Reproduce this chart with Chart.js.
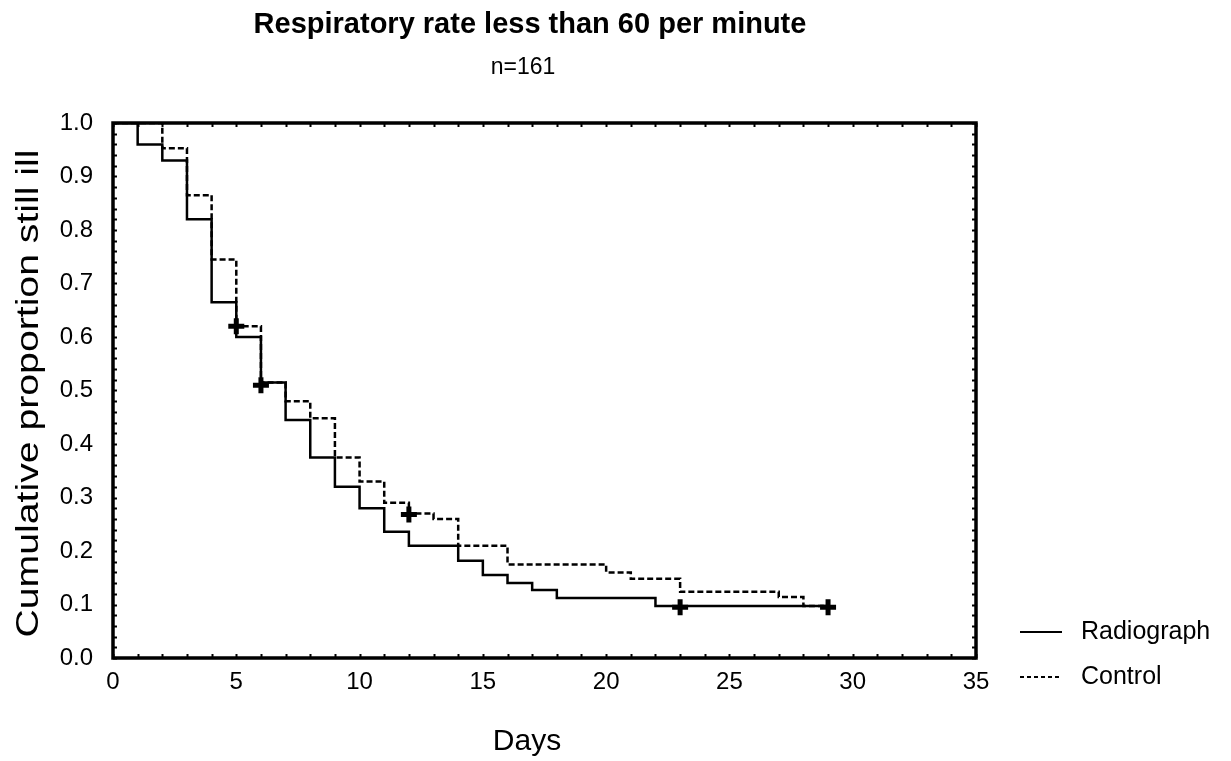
<!DOCTYPE html>
<html>
<head>
<meta charset="utf-8">
<script src="https://cdn.jsdelivr.net/npm/chart.js@4.4.1/dist/chart.umd.min.js"></script>
<style>
  html, body { margin: 0; padding: 0; background: #ffffff; }
  #wrap { width: 1231px; height: 761px; position: relative; }
</style>
</head>
<body>
<div id="wrap"><canvas id="km"></canvas></div>
<script>
// Kaplan-Meier estimates: day of each step and proportion still ill from that day on
const radiographDays = [0, 1, 2, 3, 4, 5, 6, 7, 8, 9, 10, 11, 12, 14, 15, 16, 17, 18, 22, 29];
const radiographProp = [1.0, 0.96, 0.93, 0.82, 0.665, 0.60, 0.515, 0.445, 0.375, 0.32, 0.28, 0.236, 0.21, 0.182, 0.155, 0.14, 0.127, 0.112, 0.097, 0.097];

const controlDays = [0, 2, 3, 4, 5, 6, 7, 8, 9, 10, 11, 12, 13, 14, 16, 20, 21, 23, 27, 28, 29];
const controlProp = [1.0, 0.953, 0.865, 0.745, 0.62, 0.515, 0.48, 0.448, 0.375, 0.33, 0.29, 0.27, 0.26, 0.21, 0.175, 0.16, 0.148, 0.124, 0.114, 0.097, 0.097];

// Censored observations (+ marks)
const censorDays = [5, 6, 12, 23, 29];
const censorProp = [0.62, 0.51, 0.268, 0.095, 0.095];

// Axis ticks
const xTicks = [0, 5, 10, 15, 20, 25, 30, 35];
const yTicks = [0.0, 0.1, 0.2, 0.3, 0.4, 0.5, 0.6, 0.7, 0.8, 0.9, 1.0];
const xMinorStep = 1;
const yMinorStep = 0.02;

const seriesNames = ['Radiograph', 'Control'];
const titleText = 'Respiratory rate less than 60 per minute';
const subtitleText = 'n=161';
const xTitle = 'Days';
const yTitle = 'Cumulative proportion still ill';

const FONT = "'Liberation Sans', Arial, sans-serif";

const toPoints = (xs, ys) => xs.map((x, i) => ({ x: x, y: ys[i] }));

// Frame, inward minor ticks, headings, axis titles and legend
const decorations = {
  id: 'decorations',
  afterDatasetsDraw(chart) {
    const { ctx, chartArea: a, scales } = chart;
    const xs = scales.x, ys = scales.y;
    ctx.save();
    ctx.strokeStyle = '#000';
    ctx.lineWidth = 2;
    const tl = 4;
    for (let v = xs.min; v <= xs.max + 1e-9; v += xMinorStep) {
      const px = Math.round(xs.getPixelForValue(v)) + 0.5;
      ctx.beginPath();
      ctx.moveTo(px, a.bottom); ctx.lineTo(px, a.bottom - tl);
      ctx.moveTo(px, a.top); ctx.lineTo(px, a.top + tl);
      ctx.stroke();
    }
    for (let v = ys.min; v <= ys.max + 1e-9; v += yMinorStep) {
      const py = Math.round(ys.getPixelForValue(v)) + 0.5;
      ctx.beginPath();
      ctx.moveTo(a.left, py); ctx.lineTo(a.left + tl, py);
      ctx.moveTo(a.right, py); ctx.lineTo(a.right - tl, py);
      ctx.stroke();
    }
    ctx.lineWidth = 3.5;
    ctx.strokeRect(a.left, a.top, a.right - a.left, a.bottom - a.top);
    ctx.restore();
  },
  afterDraw(chart) {
    const { ctx, chartArea: a } = chart;
    ctx.save();
    ctx.fillStyle = '#000';
    ctx.textAlign = 'center';
    ctx.textBaseline = 'middle';

    // headings
    ctx.font = 'bold 29px ' + FONT;
    ctx.fillText(titleText, 530, 25);
    ctx.font = '23px ' + FONT;
    ctx.fillText(subtitleText, 523, 67.5);

    // x axis title
    ctx.font = '30px ' + FONT;
    ctx.fillText(xTitle, 527, 742);

    // y axis title, set a little wide along its length
    ctx.font = '31px ' + FONT;
    const w = ctx.measureText(yTitle).width;
    const stretch = 488 / w;
    ctx.translate(29, (a.top + a.bottom) / 2 + 3);
    ctx.rotate(-Math.PI / 2);
    ctx.scale(stretch, 1);
    ctx.fillText(yTitle, 0, 0);
    ctx.restore();

    // legend
    ctx.save();
    ctx.strokeStyle = '#000';
    ctx.fillStyle = '#000';
    ctx.lineWidth = 2;
    ctx.font = '25px ' + FONT;
    ctx.textAlign = 'left';
    ctx.textBaseline = 'middle';
    const rows = [{ y: 632, dash: [] }, { y: 677, dash: [4, 3] }];
    rows.forEach((r, i) => {
      ctx.setLineDash(r.dash);
      ctx.beginPath();
      ctx.moveTo(1020, r.y);
      ctx.lineTo(1062, r.y);
      ctx.stroke();
      ctx.setLineDash([]);
      ctx.fillText(seriesNames[i], 1081, r.y);
    });
    ctx.restore();
  }
};

new Chart(document.getElementById('km'), {
  type: 'line',
  data: {
    datasets: [
      {
        label: seriesNames[0],
        data: toPoints(radiographDays, radiographProp),
        stepped: 'before',
        borderColor: '#000',
        borderWidth: 2.5,
        pointRadius: 0,
        fill: false
      },
      {
        label: seriesNames[1],
        data: toPoints(controlDays, controlProp),
        stepped: 'before',
        borderColor: '#000',
        borderWidth: 2.5,
        borderDash: [6, 3],
        pointRadius: 0,
        fill: false
      },
      {
        label: 'censored',
        type: 'scatter',
        data: toPoints(censorDays, censorProp),
        showLine: false,
        pointStyle: 'cross',
        pointRadius: 8,
        pointBorderWidth: 5,
        pointBorderColor: '#000',
        pointBackgroundColor: '#000'
      }
    ]
  },
  options: {
    responsive: true,
    maintainAspectRatio: false,
    animation: false,
    layout: { padding: { left: 0, right: 255, top: 123, bottom: 0 } },
    plugins: {
      legend: { display: false },
      tooltip: { enabled: false },
      title: { display: false },
      subtitle: { display: false }
    },
    scales: {
      x: {
        type: 'linear',
        min: 0,
        max: 35,
        afterFit: (s) => { s.height = 103; },
        afterBuildTicks: (s) => { s.ticks = xTicks.map(v => ({ value: v })); },
        grid: { display: false, drawTicks: false },
        border: { display: false },
        ticks: {
          color: '#000',
          font: { family: FONT, size: 24 },
          padding: 10,
          maxRotation: 0,
          autoSkip: false
        }
      },
      y: {
        type: 'linear',
        min: 0,
        max: 1,
        afterFit: (s) => { s.width = 113; },
        afterBuildTicks: (s) => { s.ticks = yTicks.map(v => ({ value: v })); },
        grid: { display: false, drawTicks: false },
        border: { display: false },
        ticks: {
          color: '#000',
          font: { family: FONT, size: 24 },
          padding: 20,
          autoSkip: false,
          callback: (v) => Number(v).toFixed(1)
        }
      }
    }
  },
  plugins: [decorations]
});
</script>
</body>
</html>
